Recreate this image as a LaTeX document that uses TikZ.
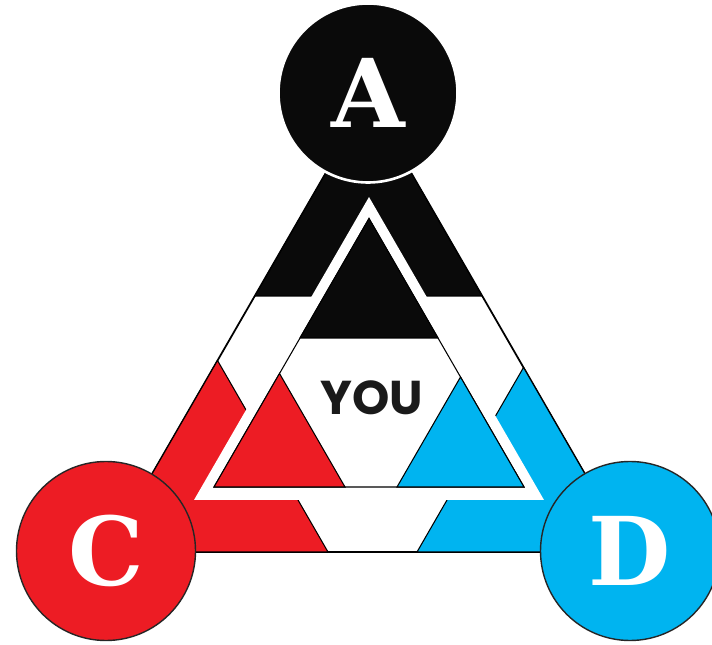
\documentclass[tikz,border=0pt]{standalone}
\usepackage{fontspec}
\usepackage{xcolor}
\usepackage{tikz}
\newfontfamily\letterfont{DejaVu Serif}
\newfontfamily\youfont{Poppins}
\definecolor{TriRed}{HTML}{ED1C24}
\definecolor{TriBlue}{HTML}{00B4F0}
\definecolor{TriBlack}{HTML}{0A0A0A}
\definecolor{TriText}{HTML}{1A1A1A}

\begin{document}
\begin{tikzpicture}[x=1cm,y=1cm,
  piece/.style={draw=black,line width=0.6pt,line join=miter},
  letterdisc/.style={circle,minimum size=3.58cm,inner sep=0pt,text=white,
    font=\letterfont\bfseries\fontsize{54}{54}\selectfont}]
\path[use as bounding box] (0,0) rectangle (14.24,12.88);
% outer frame and its three corners
\draw[black,line width=1pt,fill=white] (7.37,10.90) -- (2.14,1.84) -- (12.60,1.84) -- cycle;
\filldraw[piece,fill=TriBlack] (7.37,10.90) -- (5.10,6.96) -- (9.64,6.96) -- cycle;
\filldraw[piece,fill=TriRed] (2.14,1.84) -- (6.56,1.84) -- (4.35,5.67) -- cycle;
\filldraw[piece,fill=TriBlue] (12.60,1.84) -- (8.34,1.84) -- (10.47,5.53) -- cycle;
% white band
\fill[white] (7.38,8.94) -- (3.88,2.88) -- (10.88,2.88) -- cycle;
% inner triangle
\filldraw[piece,fill=white] (7.38,8.51) -- (4.28,3.14) -- (10.48,3.14) -- cycle;
\filldraw[piece,fill=TriBlack] (7.38,8.51) -- (6.00,6.12) -- (8.76,6.12) -- cycle;
\filldraw[piece,fill=TriRed] (4.28,3.14) -- (6.90,3.14) -- (5.59,5.41) -- cycle;
\filldraw[piece,fill=TriBlue] (7.94,3.14) -- (10.48,3.14) -- (9.21,5.34) -- cycle;
\node[text=TriText,font=\youfont\bfseries\fontsize{27}{27}\selectfont] (you) at (7.44,4.92) {YOU};
% discs
\node[letterdisc,fill=TriBlack,draw=white,line width=1.5pt] (a) at (7.36,11.02) {A};
\node[letterdisc,fill=TriRed,draw=black!85,line width=0.8pt] (c) at (2.12,1.86) {C};
\node[letterdisc,fill=TriBlue,draw=black!85,line width=0.8pt] (d) at (12.60,1.86) {D};
\end{tikzpicture}
\end{document}
